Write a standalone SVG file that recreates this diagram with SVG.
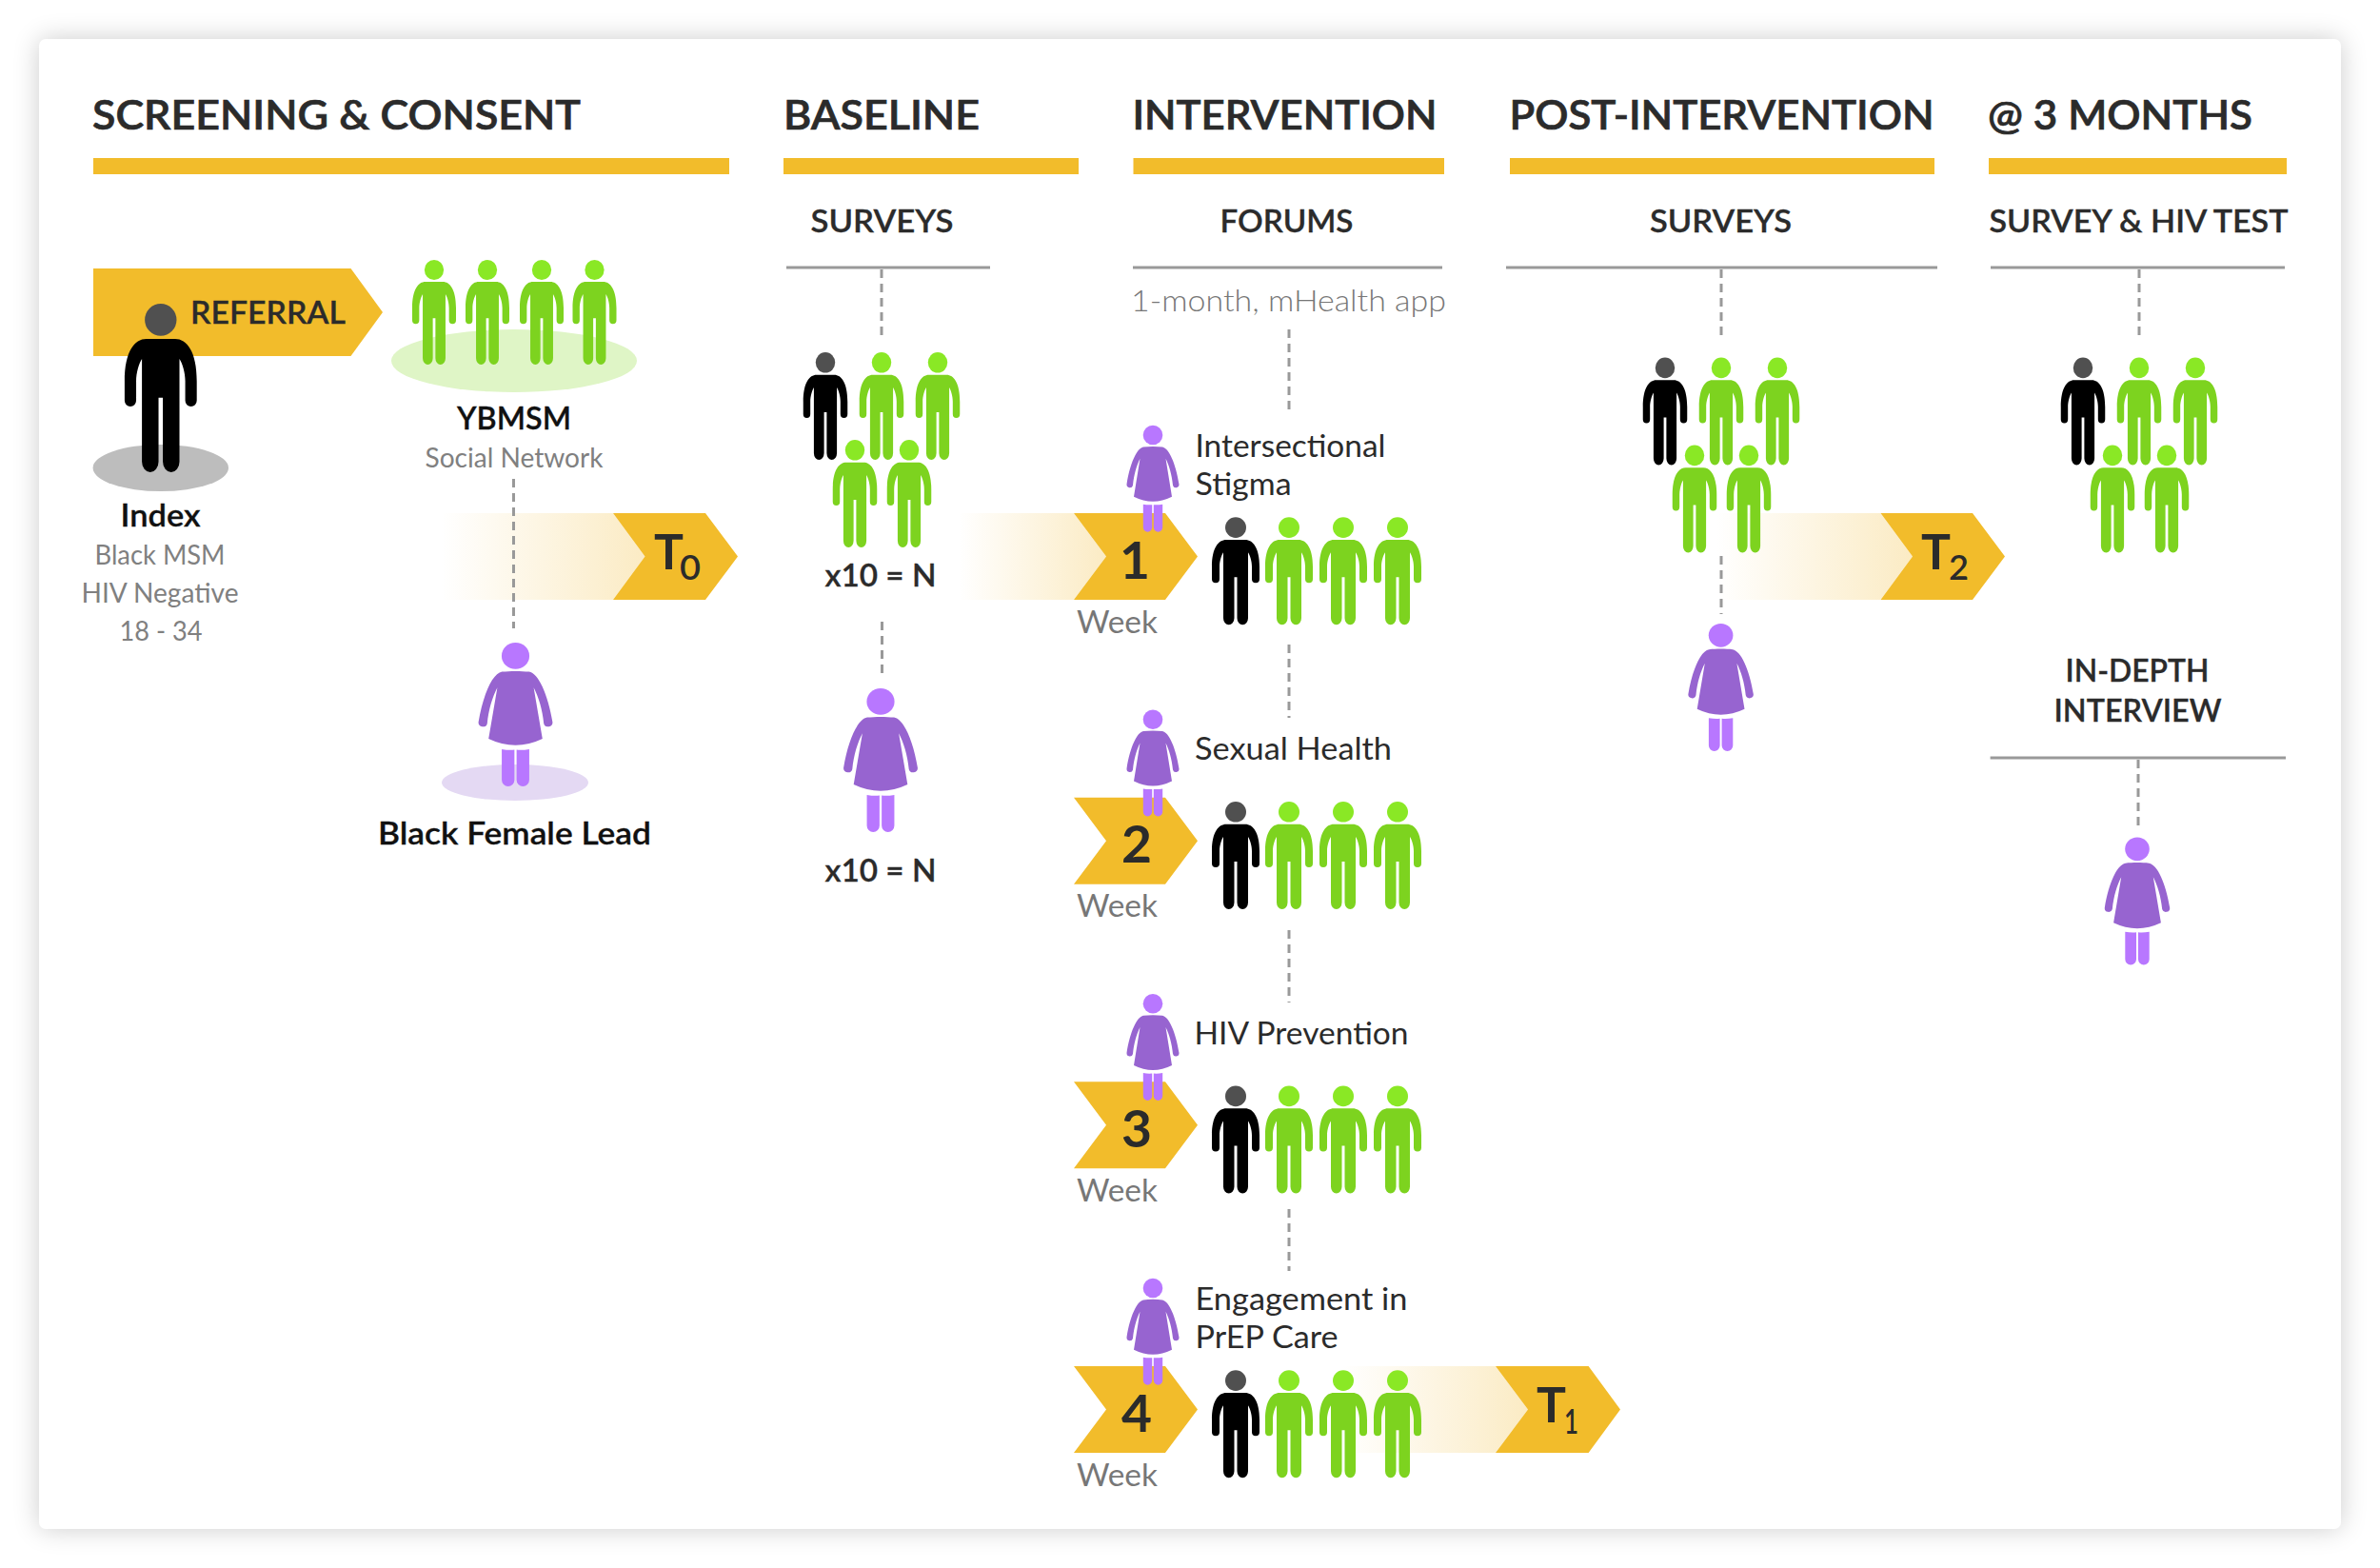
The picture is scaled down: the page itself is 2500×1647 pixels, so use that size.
<svg xmlns="http://www.w3.org/2000/svg" width="2500" height="1647" viewBox="0 0 2500 1647">
<style>
text{font-family:"Lato","Liberation Sans",sans-serif;fill:#2b2b2b}
.h1{font-size:42px;font-weight:600;stroke:#2b2b2b;stroke-width:.7px}
.h2{font-size:32px;font-weight:600;stroke:#2b2b2b;stroke-width:.3px}
.lab{font-size:32px;font-weight:400}
.bold{font-size:32px;font-weight:600;fill:#111;stroke:#111;stroke-width:.3px}
.sub{font-size:28px;font-weight:400;fill:#808080}
.wk{font-size:32px;font-weight:400;fill:#777}
.num{font-size:53px;font-weight:700}
.t{font-size:52px;font-weight:700}
.ts{font-size:37px;font-weight:600}
.bar{fill:#f2bc2b}
.arrow{fill:#f2bc2b}
.rule{stroke:#999;stroke-width:3;fill:none}
.dash{stroke:#999;stroke-width:3;stroke-dasharray:9 6;fill:none}
</style>
<defs>
<filter id="sh" x="-5%" y="-5%" width="110%" height="110%"><feGaussianBlur stdDeviation="14"/></filter>
<linearGradient id="fade"><stop offset="0" stop-color="#fff"/><stop offset="1" stop-color="#fbebc4"/></linearGradient>
<path id="mbody" d="M-10,23.7H10C18,23.7 25,32 25,52V65a4,4 0 0 1-8,0V52C17,46 15,40 13,37V106a5.75,7 0 0 1-11.5,0V63H-1.5V106a5.75,7 0 0 1-11.5,0V37C-15,40-17,46-17,52V65a4,4 0 0 1-8,0V52C-25,32-18,23.7-10,23.7Z"/>
<g id="man-black"><ellipse cy="10.8" rx="11" ry="10.8" fill="#505050"/><use href="#mbody" fill="#000"/></g>
<g id="man-green"><ellipse cy="10.8" rx="11" ry="10.8" fill="#8ae825"/><use href="#mbody" fill="#7dd31f"/></g>
<g id="woman">
<ellipse cy="10.3" rx="10.3" ry="10.3" fill="#b877ff"/>
<path fill="#9764d0" d="M-10,22.7C-4,22 4,22 10,22.7C17,24 24,40 27.5,62a3.3,3.3 0 0 1-6.5,1C20,52 17,42 13.5,35L20,75Q0,85-20,75L-13.5,35C-17,42-20,52-21,63a3.3,3.3 0 0 1-6.5-1C-24,40-17,24-10,22.7Z"/>
<path fill="#b877ff" d="M-10.2,83Q-5,84-0.8,83.5V107a4.7,5 0 0 1-9.4,0ZM0.8,83.5Q5,84 10.2,83V107a4.7,5 0 0 1-9.4,0Z"/>
</g>
<g id="group5">
<use href="#man-black" transform="translate(-59,0) scale(.93,1)"/><use href="#man-green" transform="scale(.93,1)"/><use href="#man-green" transform="translate(59,0) scale(.93,1)"/>
<use href="#man-green" transform="translate(-28,92) scale(.93,1)"/><use href="#man-green" transform="translate(29,92) scale(.93,1)"/>
</g>
<g id="row4">
<use href="#man-black" transform="translate(1298,0)"/><use href="#man-green" transform="translate(1354,0)"/><use href="#man-green" transform="translate(1411,0)"/><use href="#man-green" transform="translate(1468,0)"/>
</g>
<path id="weekarrow" d="M1128,539H1224L1258,584.5L1224,630H1128L1162,584.5Z"/>
</defs>

<g id="card">
<rect x="41" y="41" width="2418" height="1565" rx="7" fill="#000" opacity="0.2" filter="url(#sh)"/>
<rect x="41" y="41" width="2418" height="1565" rx="7" fill="#fff"/>
</g>

<g id="headers">
<g id="head-screening"><text class="h1" x="97" y="135.5" textLength="513" lengthAdjust="spacingAndGlyphs">SCREENING &amp; CONSENT</text><rect class="bar" x="98" y="166" width="668" height="17"/></g>
<g id="head-baseline"><text class="h1" x="823" y="135.5" textLength="206" lengthAdjust="spacingAndGlyphs">BASELINE</text><rect class="bar" x="823" y="166" width="310" height="17"/>
<text class="h2" x="851.5" y="243.5" textLength="150" lengthAdjust="spacingAndGlyphs">SURVEYS</text><line class="rule" x1="826" y1="281" x2="1040" y2="281"/></g>
<g id="head-intervention"><text class="h1" x="1189.5" y="135.5" textLength="320" lengthAdjust="spacingAndGlyphs">INTERVENTION</text><rect class="bar" x="1190.5" y="166" width="326.5" height="17"/>
<text class="h2" x="1281.5" y="243.5" textLength="140" lengthAdjust="spacingAndGlyphs">FORUMS</text><line class="rule" x1="1190" y1="281" x2="1515" y2="281"/>
<text class="lab" style="fill:#777;font-weight:300" x="1188" y="326.5" textLength="331" lengthAdjust="spacingAndGlyphs">1-month, mHealth app</text></g>
<g id="head-post"><text class="h1" x="1585.5" y="135.5" textLength="446" lengthAdjust="spacingAndGlyphs">POST-INTERVENTION</text><rect class="bar" x="1586" y="166" width="446" height="17"/>
<text class="h2" x="1733" y="243.5" textLength="149" lengthAdjust="spacingAndGlyphs">SURVEYS</text><line class="rule" x1="1582" y1="281" x2="2035" y2="281"/></g>
<g id="head-3months"><text class="h1" x="2088" y="135.5" textLength="278" lengthAdjust="spacingAndGlyphs">@ 3 MONTHS</text><rect class="bar" x="2089" y="166" width="313" height="17"/>
<text class="h2" x="2089.5" y="243.5" textLength="314" lengthAdjust="spacingAndGlyphs">SURVEY &amp; HIV TEST</text><line class="rule" x1="2091" y1="281" x2="2400" y2="281"/></g>
</g>

<g id="time-arrows-back">
<g id="band-t0"><path fill="url(#fade)" d="M464,539H644L677.5,584.5L644,630H464Z"/></g>
<g id="band-1"><path fill="url(#fade)" d="M1007,539H1128L1162,584.5L1128,630H1007Z"/></g>
<g id="band-t2"><path fill="url(#fade)" d="M1803,539H1975.5L2009,584.5L1975.5,630H1803Z"/></g>
<g id="band-t1"><path fill="url(#fade)" d="M1410,1435H1571L1605,1480.5L1571,1526H1410Z"/></g>
</g>

<g id="connectors">
<line class="dash" x1="539.5" y1="503" x2="539.5" y2="660"/>
<line class="dash" x1="926" y1="283" x2="926" y2="355"/>
<line class="dash" x1="926.5" y1="653" x2="926.5" y2="713"/>
<line class="dash" x1="1354" y1="346" x2="1354" y2="435"/>
<line class="dash" x1="1354" y1="677" x2="1354" y2="754"/>
<line class="dash" x1="1354" y1="977" x2="1354" y2="1053"/>
<line class="dash" x1="1354" y1="1270" x2="1354" y2="1335"/>
<line class="dash" x1="1808" y1="283" x2="1808" y2="355"/>
<line class="dash" x1="1808" y1="584" x2="1808" y2="645"/>
<line class="dash" x1="2247" y1="283" x2="2247" y2="355"/>
<line class="dash" x1="2246" y1="798" x2="2246" y2="871"/>
</g>

<g id="node-referral">
<path class="arrow" d="M98,282H368.5L402,328L368.5,374H98Z"/>
<text class="h2" x="200" y="339.5" textLength="163" lengthAdjust="spacingAndGlyphs">REFERRAL</text>
</g>
<g id="node-index">
<ellipse cx="168.8" cy="491.5" rx="71.2" ry="24.5" fill="#bdbdbd"/>
<use href="#man-black" transform="translate(168.8,319) scale(1.516,1.566)"/>
<text class="bold" x="126.5" y="552.5" textLength="84" lengthAdjust="spacingAndGlyphs">Index</text>
<text class="sub" x="99.5" y="592.5" textLength="137" lengthAdjust="spacingAndGlyphs">Black MSM</text>
<text class="sub" x="85.5" y="632.5" textLength="165" lengthAdjust="spacingAndGlyphs">HIV Negative</text>
<text class="sub" x="125.5" y="672.5" textLength="87" lengthAdjust="spacingAndGlyphs">18 - 34</text>
</g>
<g id="node-ybmsm">
<ellipse cx="540" cy="379" rx="129" ry="33" fill="#dff5c6"/>
<use href="#man-green" transform="translate(456,273) scale(.92,.973)"/>
<use href="#man-green" transform="translate(512,273) scale(.92,.973)"/>
<use href="#man-green" transform="translate(569,273) scale(.92,.973)"/>
<use href="#man-green" transform="translate(624.5,273) scale(.92,.973)"/>
<text class="bold" x="480" y="450.5" textLength="120" lengthAdjust="spacingAndGlyphs">YBMSM</text>
<text class="sub" x="446.5" y="490.5" textLength="187" lengthAdjust="spacingAndGlyphs">Social Network</text>
</g>
<g id="node-t0">
<path class="arrow" d="M644,539H741L775,584.5L741,630H644L677.5,584.5Z"/>
<text class="t" x="687" y="598" textLength="31" lengthAdjust="spacingAndGlyphs">T</text>
<text class="ts" x="714" y="609" textLength="22" lengthAdjust="spacingAndGlyphs">0</text>
</g>
<g id="node-female-lead">
<ellipse cx="541" cy="822" rx="77" ry="19" fill="#e4d9f3"/>
<use href="#woman" transform="translate(541.5,675) scale(1.415,1.348)"/>
<text class="bold" x="397" y="886.5" textLength="287" lengthAdjust="spacingAndGlyphs">Black Female Lead</text>
</g>

<g id="node-baseline-group">
<use href="#group5" transform="translate(926,370)"/>
<text class="bold" style="fill:#2b2b2b;stroke:#2b2b2b" x="866.5" y="616" textLength="117" lengthAdjust="spacingAndGlyphs">x10 = N</text>
</g>
<g id="node-baseline-woman">
<use href="#woman" transform="translate(925,723) scale(1.415,1.348)"/>
<text class="bold" style="fill:#2b2b2b;stroke:#2b2b2b" x="866.5" y="925.5" textLength="117" lengthAdjust="spacingAndGlyphs">x10 = N</text>
</g>

<g id="node-week1">
<use href="#weekarrow" class="arrow"/>
<use href="#row4" transform="translate(0,543.3)"/>
<use href="#woman" transform="translate(1211,446.7)"/>
<text class="num" x="1176" y="607.5" textLength="32" lengthAdjust="spacingAndGlyphs">1</text>
<text class="wk" x="1131" y="664.5" textLength="85" lengthAdjust="spacingAndGlyphs">Week</text>
<text class="lab" x="1255.5" y="479.5" textLength="200" lengthAdjust="spacingAndGlyphs">Intersectional</text>
<text class="lab" x="1255.5" y="519.5" textLength="101" lengthAdjust="spacingAndGlyphs">Stigma</text>
</g>
<g id="node-week2">
<use href="#weekarrow" class="arrow" transform="translate(0,298.67)"/>
<use href="#row4" transform="translate(0,842)"/>
<use href="#woman" transform="translate(1211,745.4)"/>
<text class="num" x="1178" y="906.2" textLength="32" lengthAdjust="spacingAndGlyphs">2</text>
<text class="wk" x="1131" y="963.2" textLength="85" lengthAdjust="spacingAndGlyphs">Week</text>
<text class="lab" x="1255" y="797.5" textLength="207" lengthAdjust="spacingAndGlyphs">Sexual Health</text>
</g>
<g id="node-week3">
<use href="#weekarrow" class="arrow" transform="translate(0,597.33)"/>
<use href="#row4" transform="translate(0,1140.6)"/>
<use href="#woman" transform="translate(1211,1044)"/>
<text class="num" x="1178" y="1204.8" textLength="32" lengthAdjust="spacingAndGlyphs">3</text>
<text class="wk" x="1131" y="1261.8" textLength="85" lengthAdjust="spacingAndGlyphs">Week</text>
<text class="lab" x="1254.5" y="1096.5" textLength="225" lengthAdjust="spacingAndGlyphs">HIV Prevention</text>
</g>
<g id="node-week4">
<use href="#weekarrow" class="arrow" transform="translate(0,896)"/>
<use href="#row4" transform="translate(0,1439.3)"/>
<use href="#woman" transform="translate(1211,1342.7)"/>
<text class="num" x="1178" y="1503.5" textLength="32" lengthAdjust="spacingAndGlyphs">4</text>
<text class="wk" x="1131" y="1560.5" textLength="85" lengthAdjust="spacingAndGlyphs">Week</text>
<text class="lab" x="1255.5" y="1375.5" textLength="223" lengthAdjust="spacingAndGlyphs">Engagement in</text>
<text class="lab" x="1255.5" y="1415.5" textLength="150" lengthAdjust="spacingAndGlyphs">PrEP Care</text>
</g>
<g id="node-t1">
<path class="arrow" d="M1571,1435H1668.6L1702,1480.5L1668.6,1526H1571L1605,1480.5Z"/>
<text class="t" x="1614" y="1494" textLength="31" lengthAdjust="spacingAndGlyphs">T</text>
<text class="ts" x="1643" y="1506" textLength="15" lengthAdjust="spacingAndGlyphs">1</text>
</g>

<g id="node-post-group"><use href="#group5" transform="translate(1808,375.6)"/></g>
<g id="node-post-woman"><use href="#woman" transform="translate(1807.6,655) scale(1.245,1.196)"/></g>
<g id="node-t2">
<path class="arrow" d="M1975.5,539H2072L2106,584.5L2072,630H1975.5L2009,584.5Z"/>
<text class="t" x="2018" y="598" textLength="31" lengthAdjust="spacingAndGlyphs">T</text>
<text class="ts" x="2047" y="609" textLength="21" lengthAdjust="spacingAndGlyphs">2</text>
</g>
<g id="node-3months-group"><use href="#group5" transform="translate(2247,375.6)"/></g>
<g id="node-interview">
<text class="h2" x="2169.5" y="715.5" textLength="151" lengthAdjust="spacingAndGlyphs">IN-DEPTH</text>
<text class="h2" x="2157.5" y="757.5" textLength="176" lengthAdjust="spacingAndGlyphs">INTERVIEW</text>
<line class="rule" x1="2090.6" y1="796" x2="2401" y2="796"/>
</g>
<g id="node-3months-woman"><use href="#woman" transform="translate(2245,879.5) scale(1.245,1.196)"/></g>
</svg>
